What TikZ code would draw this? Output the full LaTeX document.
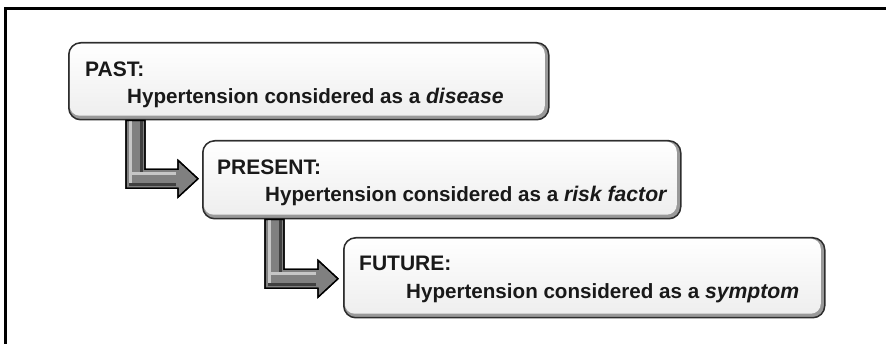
\documentclass[tikz,border=0pt]{standalone}
\usepackage{fontspec}
\setmainfont{Liberation Sans}
\usetikzlibrary{calc}
\tikzset{
  tlbox/.style={rounded corners=12pt, draw=gray!35!black, line width=1.5pt, fill=gray!80,
    inner sep=0pt, anchor=north west,
    path picture={\fill[rounded corners=10pt, top color=white, bottom color=gray!14]
      ([shift={(1pt,-1pt)}]path picture bounding box.north west) rectangle
      ([shift={(-4pt,4pt)}]path picture bounding box.south east);}},
  headtxt/.style={anchor=base west, inner sep=0pt, font=\fontsize{21}{24}\selectfont\bfseries, text=black!90},
  subtxt/.style={anchor=base west, inner sep=0pt, font=\fontsize{20.6}{24}\selectfont\bfseries, text=black!90},
  arrowfill/.style={fill=gray, draw=black, line width=1.3pt, line join=miter},
  arrowhi/.style={draw=gray!45, line width=3pt},
  arrowlo/.style={draw=gray!50!black, line width=2.5pt}
}
\newcommand\emword[1]{{\fontsize{21.2}{24}\selectfont\itshape #1}}
\newcommand\lshapearrow[2]{%
  \path let \p1=(#1), \p2=(#2) in
    [arrowfill] (\x1,\y1) -- (\x1+19pt,\y1) -- (\x1+19pt,\y2+9.5pt) -- (\x2-20pt,\y2+9.5pt)
    -- (\x2-20pt,\y2+18.5pt) -- (\x2,\y2) -- (\x2-20pt,\y2-18.5pt) -- (\x2-20pt,\y2-9.5pt)
    -- (\x1,\y2-9.5pt) -- cycle;
  \path let \p1=(#1), \p2=(#2) in
    [arrowlo] (\x1+15.5pt,\y1-1pt) -- (\x1+15.5pt,\y2+6pt) (\x1+3pt,\y2-6pt) -- (\x2-22pt,\y2-6pt);
  \path let \p1=(#1), \p2=(#2) in
    [arrowhi] (\x1+4.5pt,\y1-1pt) -- (\x1+4.5pt,\y2-4pt) (\x1+6pt,\y2+5pt) -- (\x2-22pt,\y2+5pt);
  \path let \p1=(#1), \p2=(#2) in
    [draw=black, line width=1.3pt, line join=miter] (\x1,\y1) -- (\x1+19pt,\y1) -- (\x1+19pt,\y2+9.5pt) -- (\x2-20pt,\y2+9.5pt)
    -- (\x2-20pt,\y2+18.5pt) -- (\x2,\y2) -- (\x2-20pt,\y2-18.5pt) -- (\x2-20pt,\y2-9.5pt)
    -- (\x1,\y2-9.5pt) -- cycle;
}
\begin{document}
\begin{tikzpicture}[x=1pt, y=-1pt]
\useasboundingbox (0,0) rectangle (886,344);
\clip (0,0) rectangle (886,344);
\fill[white] (0,0) rectangle (886,344);
\draw[black, line width=2.5pt] (5.5,8.7) rectangle (900,360);

\node[tlbox, minimum width=480pt, minimum height=77pt] (past) at (68,42) {};
\node[tlbox, minimum width=478pt, minimum height=78pt] (present) at (202,140) {};
\node[tlbox, minimum width=481pt, minimum height=80pt] (future) at (343,237) {};

\node[headtxt] (pastT) at (85,76.7) {PAST:};
\node[subtxt] (pastS) at (127,104) {Hypertension considered as a \emword{disease}};
\node[headtxt] (presentT) at (217,174.5) {PRESENT:};
\node[subtxt] (presentS) at (265,201.5) {Hypertension considered as a \emword{risk factor}};
\node[headtxt] (futureT) at (359,271) {FUTURE:};
\node[subtxt] (futureS) at (406,299) {Hypertension considered as a \emword{symptom}};

\coordinate (a1s) at ($(past.south west)+(58,0)$);
\coordinate (a1e) at ($(present.west)+(-4,-1)$);
\coordinate (a2s) at ($(present.south west)+(63,0)$);
\coordinate (a2e) at ($(future.west)+(-5,1)$);
\lshapearrow{a1s}{a1e}
\lshapearrow{a2s}{a2e}
\end{tikzpicture}
\end{document}
